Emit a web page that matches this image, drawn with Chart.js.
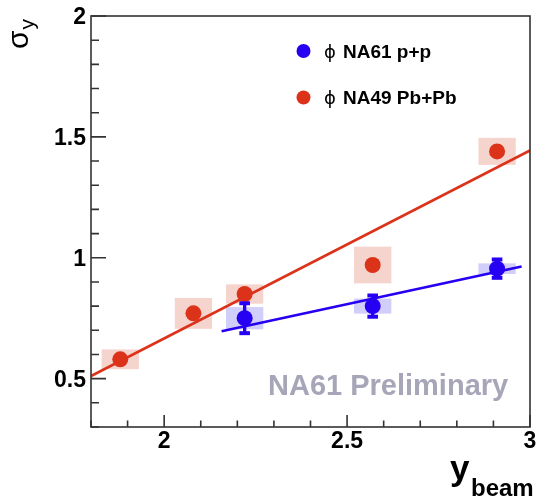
<!DOCTYPE html>
<html>
<head>
<meta charset="utf-8">
<script src="https://cdn.jsdelivr.net/npm/chart.js@4"></script>
<style>
html,body{margin:0;padding:0;background:#fff;}
#wrap{width:539px;height:502px;}
</style>
</head>
<body>
<div id="wrap"><canvas id="c" width="539" height="502"></canvas></div>
<script>
// ---- data ----
const pbX    = [1.88, 2.08, 2.22, 2.57, 2.91];
const pbY    = [0.58, 0.77, 0.85, 0.97, 1.44];
const pbSys  = [0.041, 0.064, 0.040, 0.076, 0.056];

const ppX    = [2.22, 2.57, 2.91];
const ppY    = [0.75, 0.80, 0.955];
const ppStat = [0.066, 0.048, 0.042];
const ppSys  = [0.046, 0.031, 0.022];

const pbFitX = [1.80, 3.00];
const pbFitY = [0.511, 1.444];
const ppFitX = [2.157, 2.977];
const ppFitY = [0.696, 0.964];

const xTickLabels = [2, 2.5, 3];
const yTickLabels = [0.5, 1, 1.5, 2];
const xMin = 1.8, xMax = 3.0, yMin = 0.3, yMax = 2.0;
const boxHalfWidth = 0.051;

const legendLabels = ['NA61 p+p', 'NA49 Pb+Pb'];

const RED = 'rgb(220,50,26)';
const BLUE = 'rgb(38,0,242)';
const RED_BOX = 'rgb(246,212,206)';
const BLUE_BOX = 'rgb(210,206,250)';

const toPts = (xs, ys) => xs.map((x, i) => ({x: x, y: ys[i]}));

const decor = {
  id: 'decor',
  beforeDatasetsDraw(chart) {
    const ctx = chart.ctx, xs = chart.scales.x, ys = chart.scales.y;
    ctx.save();
    const box = (X, Y, S, col) => {
      X.forEach((x, i) => {
        const l = xs.getPixelForValue(x - boxHalfWidth), r = xs.getPixelForValue(x + boxHalfWidth);
        const t = ys.getPixelForValue(Y[i] + S[i]), b = ys.getPixelForValue(Y[i] - S[i]);
        ctx.fillStyle = col;
        ctx.fillRect(l, t, r - l, b - t);
      });
    };
    box(pbX, pbY, pbSys, RED_BOX);
    box(ppX, ppY, ppSys, BLUE_BOX);
    ctx.restore();
  },
  afterDatasetsDraw(chart) {
    const ctx = chart.ctx, xs = chart.scales.x, ys = chart.scales.y;
    const a = chart.chartArea;
    ctx.save();
    // stat error bars for p+p
    ctx.strokeStyle = BLUE; ctx.fillStyle = BLUE; ctx.lineWidth = 3.3;
    ppX.forEach((x, i) => {
      const px = xs.getPixelForValue(x);
      const t = ys.getPixelForValue(ppY[i] + ppStat[i]), b = ys.getPixelForValue(ppY[i] - ppStat[i]);
      ctx.beginPath(); ctx.moveTo(px, t); ctx.lineTo(px, b); ctx.stroke();
      ctx.fillRect(px - 5.3, t - 1, 10.6, 4);
      ctx.fillRect(px - 5.3, b - 3, 10.6, 4);
    });
    // frame
    ctx.strokeStyle = '#333'; ctx.lineWidth = 1.6;
    ctx.strokeRect(a.left, a.top, a.right - a.left, a.bottom - a.top);
    // ticks
    ctx.beginPath();
    for (let k = 0; ; k++) {
      const v = +(yMin + k * 0.1).toFixed(2);
      if (v > yMax + 1e-9) break;
      const py = ys.getPixelForValue(v);
      const major = yTickLabels.some(t => Math.abs(t - v) < 1e-6);
      ctx.moveTo(a.left, py); ctx.lineTo(a.left + (major ? 15 : 8), py);
    }
    for (let k = 0; ; k++) {
      const v = +(xMin + k * 0.1).toFixed(2);
      if (v > xMax + 1e-9) break;
      const px = xs.getPixelForValue(v);
      const major = xTickLabels.some(t => Math.abs(t - v) < 1e-6);
      ctx.moveTo(px, a.bottom); ctx.lineTo(px, a.bottom - (major ? 12 : 6.5));
    }
    ctx.stroke();
    // tick labels
    ctx.fillStyle = '#000';
    ctx.font = 'bold 23px "Liberation Sans", Arial, sans-serif';
    ctx.textBaseline = 'alphabetic';
    ctx.textAlign = 'right';
    yTickLabels.forEach(v => ctx.fillText(String(v), a.left - 5, ys.getPixelForValue(v) + 8.3));
    ctx.textAlign = 'center';
    xTickLabels.forEach(v => ctx.fillText(String(v), xs.getPixelForValue(v), a.bottom + 21));
    // axis titles
    ctx.textAlign = 'left';
    ctx.font = 'bold 35px "Liberation Sans", Arial, sans-serif';
    ctx.fillText('y', 450, 480);
    ctx.font = 'bold 24px "Liberation Sans", Arial, sans-serif';
    ctx.fillText('beam', 471, 496);
    ctx.save();
    ctx.translate(28, 49);
    ctx.rotate(-Math.PI / 2);
    ctx.font = '30px "Liberation Sans", Arial, sans-serif';
    ctx.fillText('σ', 0, 0);
    const w = ctx.measureText('σ').width;
    ctx.font = '21px "Liberation Sans", Arial, sans-serif';
    ctx.fillText('y', w + 1, 6);
    ctx.restore();
    // preliminary
    ctx.font = 'bold 29px "Liberation Sans", Arial, sans-serif';
    ctx.fillStyle = 'rgb(166,166,184)';
    ctx.fillText('NA61 Preliminary', 268, 395);
    // legend
    const leg = [[BLUE, legendLabels[0], 51, 57.5], [RED, legendLabels[1], 97.5, 103.5]];
    leg.forEach(([col, txt, my, by]) => {
      ctx.fillStyle = col;
      ctx.beginPath(); ctx.arc(303.5, my, 7, 0, Math.PI * 2); ctx.fill();
      ctx.fillStyle = '#000';
      ctx.font = '18px "DejaVu Sans", sans-serif';
      ctx.fillText('ϕ', 324, by);
      ctx.font = 'bold 19px "Liberation Sans", Arial, sans-serif';
      ctx.fillText(txt, 343, by);
    });
    ctx.restore();
  }
};

new Chart(document.getElementById('c'), {
  type: 'scatter',
  data: {
    datasets: [
      {label: 'NA61 p+p', data: toPts(ppX, ppY), backgroundColor: BLUE, borderWidth: 0, pointRadius: 8, pointHoverRadius: 8, order: 1},
      {label: 'NA49 Pb+Pb', data: toPts(pbX, pbY), backgroundColor: RED, borderWidth: 0, pointRadius: 8, pointHoverRadius: 8, order: 1},
      {type: 'line', label: 'pp fit', data: toPts(ppFitX, ppFitY), borderColor: BLUE, borderWidth: 2.6, pointRadius: 0, fill: false, order: 2},
      {type: 'line', label: 'PbPb fit', data: toPts(pbFitX, pbFitY), borderColor: RED, borderWidth: 2.6, pointRadius: 0, fill: false, order: 2}
    ]
  },
  options: {
    responsive: false,
    devicePixelRatio: 1,
    animation: false,
    events: [],
    layout: {padding: {left: 91, right: 9, top: 16, bottom: 75}},
    plugins: {legend: {display: false}, tooltip: {enabled: false}},
    scales: {
      x: {type: 'linear', min: xMin, max: xMax, display: false},
      y: {type: 'linear', min: yMin, max: yMax, display: false}
    }
  },
  plugins: [decor]
});
</script>
</body>
</html>
